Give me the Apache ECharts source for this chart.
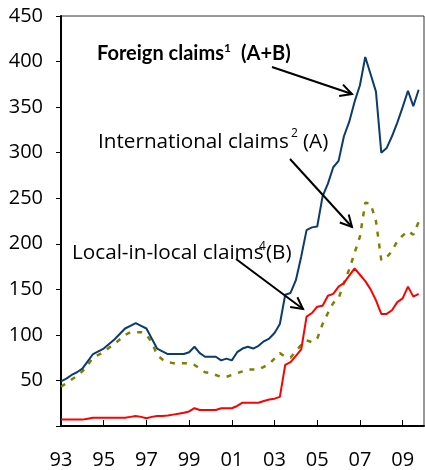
<!DOCTYPE html>
<html>
<head>
<meta charset="utf-8">
<script src="https://cdn.jsdelivr.net/npm/echarts@6/dist/echarts.min.js"></script>
<style>
html,body{margin:0;padding:0;background:#fff;}
#c{width:425px;height:470px;}
</style>
</head>
<body>
<div id="c"></div>
<script>
var quarters = [
'93Q1','93Q2','93Q3','93Q4','94Q1','94Q2','94Q3','94Q4','95Q1','95Q2','95Q3','95Q4',
'96Q1','96Q2','96Q3','96Q4','97Q1','97Q2','97Q3','97Q4','98Q1','98Q2','98Q3','98Q4',
'99Q1','99Q2','99Q3','99Q4','00Q1','00Q2','00Q3','00Q4','01Q1','01Q2','01Q3','01Q4',
'02Q1','02Q2','02Q3','02Q4','03Q1','03Q2','03Q3','03Q4','04Q1','04Q2','04Q3','04Q4',
'05Q1','05Q2','05Q3','05Q4','06Q1','06Q2','06Q3','06Q4','07Q1','07Q2','07Q3','07Q4',
'08Q1','08Q2','08Q3','08Q4','09Q1','09Q2','09Q3','09Q4','10Q1'
];

var foreignClaims = [
49,52,56,59, 63,71,79,82, 85,90,95,101, 107,110,113,110,
107,96,85,82, 79,79,79,79, 81,87,80,76, 76,76,72,74,
72,81,85,87, 85,88,93,96, 102,112,144,146, 160,186,215,218,
219,252,266,284, 291,318,334,356, 374,405,386,367, 300,305,318,333,
350,368,351,369
];

var internationalClaims = [
43,47,51,55, 60,67,75,78, 81,86,90,95, 100,103,103,103,
100,92,78,73, 70,69,69,69, 69,67,63,59, 58,56,54,54,
56,58,60,62, 62,62,65,68, 74,80,76,75, 82,89,94,92,
96,112,124,135, 140,157,172,190, 208,245,244,225, 182,185,192,203,
209,214,210,224
];

var localClaims = [
7,7,7,7, 7,8,9,9, 9,9,9,9, 9,10,11,10,
8.5,10,11,11, 11.5,12.5,13.5,14.5, 16,19.5,17.6,17.6, 17.6,17.6,19.4,19.4,
19.5,22,25.6,25.6, 25.6,25.6,27.5,29, 30,32,67,70, 77,84,120,124,
131,132,143,145, 153,157,165,173, 166,159,150,138, 123,123,127,136,
140,153,142,145
];

var yTicks = [0, 450, 50];

function arrow(x1, y1, x2, y2) {
  var ang = Math.atan2(y2 - y1, x2 - x1);
  var L = 13, a = Math.PI / 6.5;
  var p1 = [x2 - L * Math.cos(ang - a), y2 - L * Math.sin(ang - a)];
  var p2 = [x2 - L * Math.cos(ang + a), y2 - L * Math.sin(ang + a)];
  return [
    {type:'line', z:100, shape:{x1:x1,y1:y1,x2:x2,y2:y2}, style:{stroke:'#000', lineWidth:2}},
    {type:'polyline', z:100, shape:{points:[p1,[x2,y2],p2]}, style:{stroke:'#000', lineWidth:2, fill:null}}
  ];
}
function txt(x, y, s, font) {
  return {type:'text', z:100, style:{x:x, y:y, text:s, font:font, fill:'#000',
    textAlign:'left', textVerticalAlign:'middle', align:'left', verticalAlign:'middle'}};
}

var REG = '20.7px "Open Sans"';
var BOLD = 'bold 20px Lato';
var graphics = [].concat(
  [txt(97, 54, 'Foreign claims', BOLD), txt(224, 48, '1', 'bold 12px Lato'), txt(241, 54, '(A+B)', BOLD)],
  arrow(272, 67, 352, 94),
  [txt(98, 142, 'International claims', REG), txt(291, 134, '2', '12px "Open Sans"'), txt(303, 142, '(A)', REG)],
  arrow(290, 159, 352, 227),
  [txt(72, 253, 'Local-in-local claims', REG), txt(259, 247, '4', '12px "Open Sans"'), txt(266, 253, '(B)', REG)],
  arrow(236, 259, 303, 309)
);

var chart = echarts.init(document.getElementById('c'), null, {renderer:'canvas'});
chart.setOption({
  animation: false,
  backgroundColor: '#fff',
  grid: {left: 61, right: 1, top: 16, bottom: 44, show: true, borderColor: '#333', borderWidth: 1},
  xAxis: {
    type: 'category', data: quarters, boundaryGap: false,
    axisLine: {lineStyle: {color: '#000', width: 2}},
    axisTick: {show: true, inside: true, length: 6, interval: 7, lineStyle: {color: '#000', width: 1}},
    axisLabel: {interval: 7, margin: 24, color: '#000', fontSize: 20, fontFamily: '"Open Sans"',
      formatter: function (v) { return v.slice(0, 2); }},
    splitLine: {show: false}
  },
  yAxis: {
    type: 'value', min: yTicks[0], max: yTicks[1], interval: yTicks[2],
    axisLine: {show: true, lineStyle: {color: '#000', width: 2}},
    axisTick: {show: true, length: 5, lineStyle: {color: '#000', width: 1}},
    axisLabel: {margin: 18, color: '#000', fontSize: 20, fontFamily: '"Open Sans"',
      formatter: function (v) { return v === 0 ? '' : String(v); }},
    splitLine: {show: false}
  },
  series: [
    {name: 'Foreign claims', type: 'line', data: foreignClaims, symbol: 'none',
      lineStyle: {color: '#0b3b70', width: 2}, z: 3},
    {name: 'International claims', type: 'line', data: internationalClaims, symbol: 'none',
      lineStyle: {color: '#808000', width: 2.5, type: [5, 7]}, z: 2},
    {name: 'Local-in-local claims', type: 'line', data: localClaims, symbol: 'none',
      lineStyle: {color: '#ff0000', width: 2}, z: 4}
  ],
  graphic: graphics
});
</script>
</body>
</html>
